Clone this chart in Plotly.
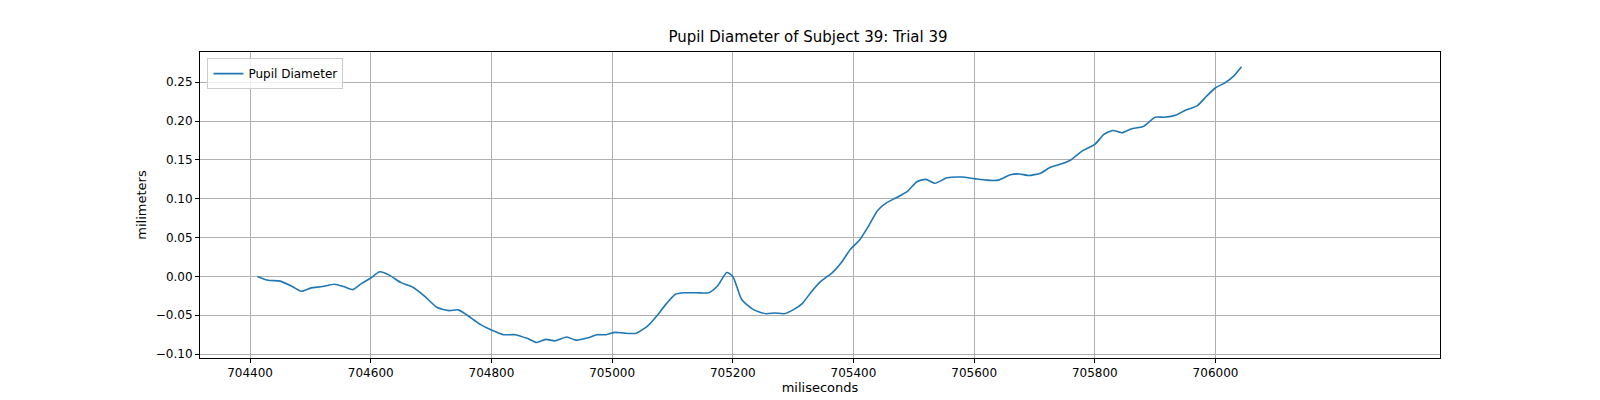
import plotly.graph_objects as go

# pupil diameter trace
time_ms = [704412, 704430, 704450, 704470, 704485, 704500, 704520, 704540, 704555, 704570,
           704585, 704600, 704615, 704630, 704650, 704670, 704690, 704710, 704730, 704745,
           704760, 704780, 704800, 704820, 704840, 704860, 704875, 704890, 704905, 704925,
           704940, 704960, 704975, 704990, 705005, 705020, 705040, 705060, 705075, 705090,
           705105, 705120, 705140, 705160, 705175, 705190, 705200, 705215, 705235, 705255,
           705270, 705285, 705300, 705315, 705330, 705345, 705365, 705380, 705395, 705410,
           705425, 705440, 705455, 705470, 705490, 705505, 705520, 705535, 705555, 705580,
           705600, 705620, 705640, 705660, 705675, 705690, 705710, 705725, 705745, 705760,
           705780, 705800, 705815, 705830, 705845, 705860, 705880, 705900, 705915, 705935,
           705950, 705970, 705985, 706000, 706015, 706030, 706043]
diameter = [0.000, -0.005, -0.006, -0.013, -0.019, -0.015, -0.013, -0.010, -0.013, -0.017,
            -0.009, -0.002, 0.006, 0.002, -0.008, -0.014, -0.026, -0.040, -0.044, -0.043,
            -0.050, -0.061, -0.069, -0.075, -0.075, -0.080, -0.085, -0.081, -0.083, -0.078,
            -0.082, -0.079, -0.075, -0.075, -0.072, -0.073, -0.073, -0.063, -0.050, -0.035,
            -0.023, -0.021, -0.021, -0.021, -0.012, 0.005, 0.000, -0.030, -0.043, -0.048,
            -0.047, -0.048, -0.043, -0.035, -0.020, -0.007, 0.005, 0.018, 0.035, 0.047,
            0.065, 0.085, 0.095, 0.101, 0.110, 0.122, 0.125, 0.120, 0.127, 0.128,
            0.126, 0.124, 0.124, 0.131, 0.132, 0.130, 0.133, 0.140, 0.145, 0.150,
            0.162, 0.170, 0.183, 0.188, 0.185, 0.190, 0.193, 0.205, 0.205, 0.208,
            0.214, 0.220, 0.232, 0.243, 0.249, 0.258, 0.270]

fig = go.Figure(go.Scatter(x=time_ms, y=diameter, mode="lines", name="Pupil Diameter",
                           line=dict(color="#1f77b4", width=1.6, shape="spline", smoothing=0.6)))

axis_style = dict(showline=True, linecolor="black", mirror=True, ticks="outside",
                  tickcolor="black", ticklen=4, showgrid=True, gridcolor="#b0b0b0",
                  zeroline=False, tickfont=dict(size=12, color="black"))

fig.update_layout(
    width=1600, height=400,
    paper_bgcolor="white", plot_bgcolor="white",
    font=dict(family="DejaVu Sans", color="black"),
    margin=dict(l=192, r=168, t=44, b=50),
    title=dict(text="Pupil Diameter of Subject 39: Trial 39", x=0.5, xanchor="center",
               y=0.915, yanchor="bottom", font=dict(size=15)),
    showlegend=True,
    legend=dict(x=0.006, y=0.98, xanchor="left", yanchor="top", bordercolor="#cccccc",
                borderwidth=1, bgcolor="rgba(255,255,255,0.8)", font=dict(size=12)),
    xaxis=dict(range=[704317, 706372], tickvals=[704400, 704600, 704800, 705000, 705200,
                                                  705400, 705600, 705800, 706000],
               tickformat="d", title=dict(text="miliseconds", font=dict(size=13), standoff=2),
               **axis_style),
    yaxis=dict(range=[-0.105, 0.289], dtick=0.05, tickformat=".2f",
               title=dict(text="milimeters", font=dict(size=13), standoff=6), **axis_style),
)

fig.write_html("out.html")
